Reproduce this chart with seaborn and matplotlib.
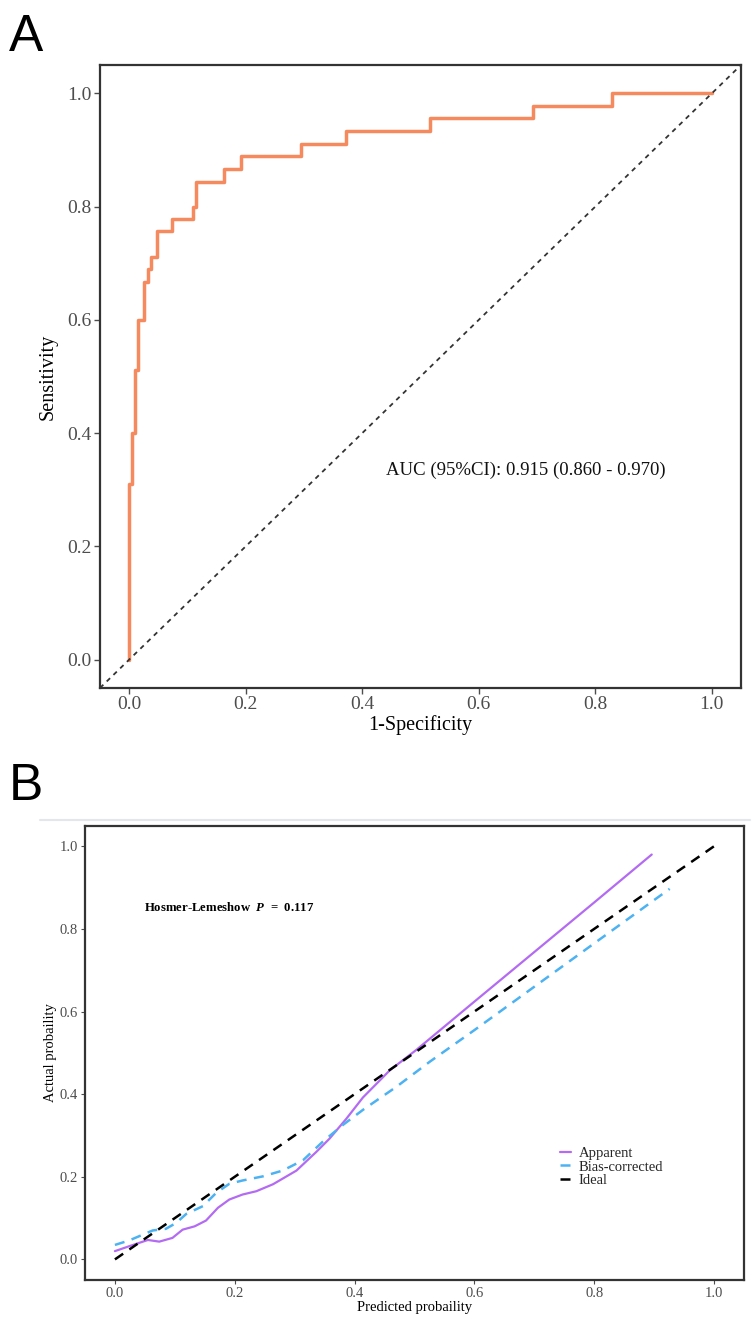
import pandas as pd
import matplotlib.pyplot as plt
import seaborn as sns
from matplotlib.lines import Line2D

# Panel A - ROC curve (corner points, step after each point)
roc_fpr = [0.0, 0.0, 0.005, 0.010, 0.016, 0.026, 0.032, 0.037, 0.047, 0.073,
           0.109, 0.115, 0.162, 0.192, 0.295, 0.372, 0.517, 0.693, 0.828, 1.0]
roc_tpr = [0.0, 0.311, 0.400, 0.511, 0.600, 0.667, 0.689, 0.711, 0.756, 0.778,
           0.800, 0.844, 0.867, 0.889, 0.911, 0.933, 0.956, 0.978, 1.0, 1.0]
auc_text = 'AUC (95%CI): 0.915 (0.860 - 0.970)'

# Panel B - calibration curves
app_x = [0.0, 0.024, 0.055, 0.074, 0.096, 0.113, 0.133, 0.152, 0.172, 0.191,
         0.213, 0.236, 0.264, 0.303, 0.336, 0.358, 0.386, 0.414, 0.459, 0.503,
         0.6, 0.7, 0.8, 0.896]
app_y = [0.020, 0.032, 0.047, 0.043, 0.052, 0.072, 0.080, 0.094, 0.125, 0.145,
         0.157, 0.165, 0.182, 0.215, 0.260, 0.292, 0.340, 0.392, 0.458, 0.507,
         0.624, 0.744, 0.864, 0.980]
bias_x = [0.0, 0.024, 0.063, 0.085, 0.102, 0.119, 0.147, 0.169, 0.191, 0.213,
          0.247, 0.280, 0.314, 0.347, 0.381, 0.414, 0.470, 0.526, 0.6, 0.7,
          0.8, 0.926]
bias_y = [0.035, 0.046, 0.070, 0.074, 0.088, 0.110, 0.129, 0.161, 0.183, 0.191,
          0.201, 0.215, 0.240, 0.285, 0.326, 0.362, 0.418, 0.479, 0.555, 0.660,
          0.765, 0.897]
ideal_x = [0.0, 1.0]
ideal_y = [0.0, 1.0]
hl_text = r'Hosmer-Lemeshow  $P$  =  0.117'

sns.set_theme(style='white')
plt.rcParams['font.family'] = ['Liberation Serif', 'DejaVu Serif']
plt.rcParams['mathtext.fontset'] = 'custom'
plt.rcParams['mathtext.it'] = 'Liberation Serif:italic:bold'
plt.rcParams['mathtext.rm'] = 'Liberation Serif:bold'

fig = plt.figure(figsize=(7.54, 13.21), dpi=100)
axA = fig.add_axes([0.1326, 0.4792, 0.8502, 0.4716])
axB = fig.add_axes([0.1127, 0.031, 0.874, 0.344])

grey = '#4D4D4D'
spine_col = '#333333'

# ---------- A ----------
roc = pd.DataFrame({'fpr': roc_fpr, 'tpr': roc_tpr})
sns.lineplot(data=roc, x='fpr', y='tpr', ax=axA, color='#F58A5E', lw=2.5,
             drawstyle='steps-post', estimator=None, sort=False)
axA.axline((0, 0), (1, 1), color='#333333', lw=1.3, ls=(0, (2.6, 2.6)))
axA.text(0.441, 0.335, auc_text, fontsize=13.5, ha='left', va='center', color='#111111')
axA.set_xlim(-0.05, 1.05)
axA.set_ylim(-0.05, 1.05)
axA.set_xticks([0, 0.2, 0.4, 0.6, 0.8, 1.0])
axA.set_yticks([0, 0.2, 0.4, 0.6, 0.8, 1.0])
axA.set_xticklabels(['0.0', '0.2', '0.4', '0.6', '0.8', '1.0'])
axA.set_yticklabels(['0.0', '0.2', '0.4', '0.6', '0.8', '1.0'])
axA.tick_params(axis='both', labelsize=14, colors=grey, length=4, width=1, pad=2,
                bottom=True, left=True)
axA.set_xlabel('1-Specificity', fontsize=14.5, color='black', labelpad=1)
axA.set_ylabel('Sensitivity', fontsize=14.5, color='black', labelpad=7)
for s in axA.spines.values():
    s.set_color(spine_col)
    s.set_linewidth(1.6)

# ---------- B ----------
sns.lineplot(x=app_x, y=app_y, ax=axB, color='#B36BF2', lw=1.6,
             estimator=None, sort=False, label='Apparent')
sns.lineplot(x=bias_x, y=bias_y, ax=axB, color='#4DB2F2', lw=1.8, ls=(0, (4, 3)),
             estimator=None, sort=False, label='Bias-corrected')
sns.lineplot(x=ideal_x, y=ideal_y, ax=axB, color='black', lw=1.8, ls=(0, (4, 3)),
             estimator=None, sort=False, label='Ideal')
axB.text(0.049, 0.852, hl_text, fontsize=9.2, fontweight='bold', ha='left',
         va='center', color='black')
axB.set_xlim(-0.05, 1.05)
axB.set_ylim(-0.05, 1.05)
axB.set_xticks([0, 0.2, 0.4, 0.6, 0.8, 1.0])
axB.set_yticks([0, 0.2, 0.4, 0.6, 0.8, 1.0])
axB.set_xticklabels(['0.0', '0.2', '0.4', '0.6', '0.8', '1.0'])
axB.set_yticklabels(['0.0', '0.2', '0.4', '0.6', '0.8', '1.0'])
axB.tick_params(axis='both', labelsize=10.5, colors=grey, length=3, width=0.8, pad=2,
                bottom=True, left=True)
axB.set_xlabel('Predicted probaility', fontsize=10.5, color='black', labelpad=1)
axB.set_ylabel('Actual probaility', fontsize=10.5, color='black', labelpad=2)
for s in axB.spines.values():
    s.set_color(spine_col)
    s.set_linewidth(1.6)
axB.legend(loc='upper left', bbox_to_anchor=(0.705, 0.315), frameon=False,
           fontsize=10.5, handlelength=0.8, handletextpad=0.5, labelspacing=0.0,
           borderpad=0.2)

# separator above panel B
fig.add_artist(Line2D([0.053, 0.995], [1 - 820 / 1321] * 2, transform=fig.transFigure,
                      color='#E3E6EA', lw=1.5))

# panel letters
fig.text(0.012, 0.990, 'A', fontsize=37, family='Liberation Sans', ha='left', va='top',
         color='black')
fig.text(0.012, 0.423, 'B', fontsize=37, family='Liberation Sans', ha='left', va='top',
         color='black')

fig.savefig('out.png', dpi=100)
